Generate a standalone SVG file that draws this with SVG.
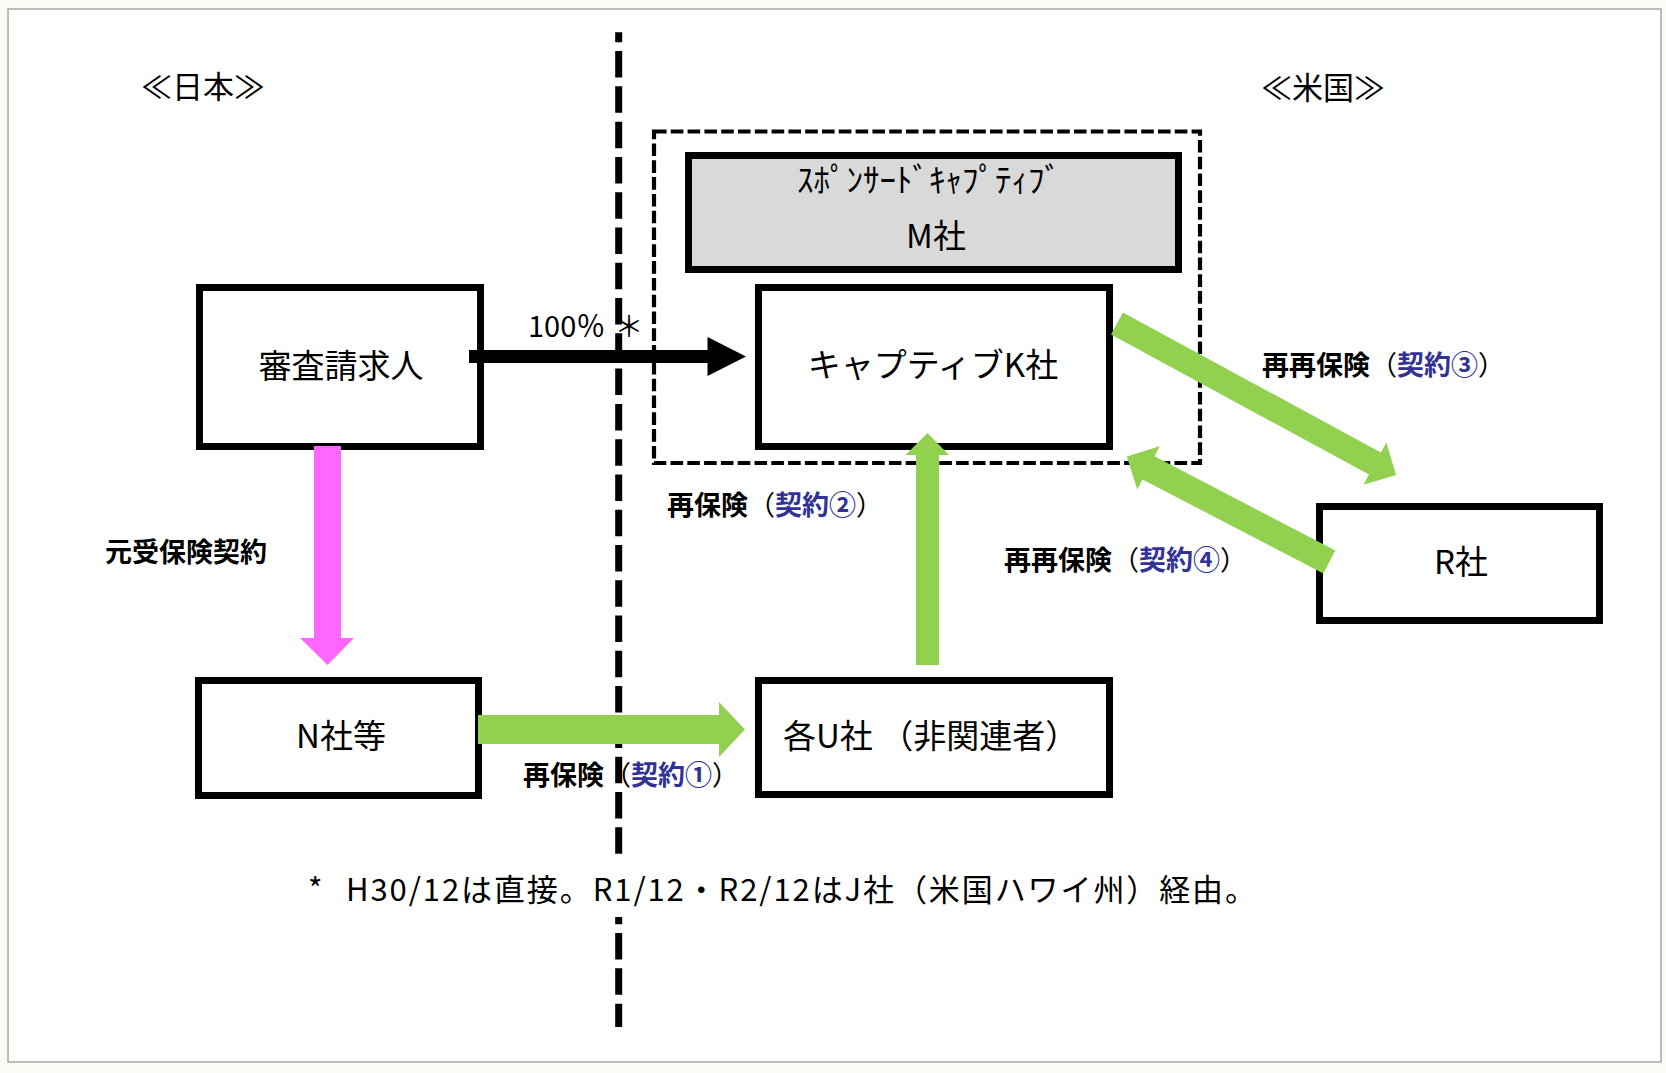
<svg xmlns="http://www.w3.org/2000/svg" width="1666" height="1073" viewBox="0 0 1666 1073">
<style>
  text { font-family: "Noto Sans CJK JP", "Noto Sans", sans-serif; fill: #000; }
  .node { fill: #fff; stroke: #000; stroke-width: 7; }
  .gray { fill: #d9d9d9; stroke: #000; stroke-width: 7; }
  .nl { font-size: 33px; }
  .region { font-size: 31px; }
  .lbl { font-size: 27px; font-weight: bold; }
  .thin { font-weight: normal; }
  .blue { fill: #323296; }
  .green { fill: #92d050; }
  .pink { fill: #ff66ff; }
</style>
<rect x="0" y="0" width="1666" height="1073" fill="#fbfbf6"/>
<rect x="8" y="9" width="1653" height="1053" fill="#fff" stroke="#999" stroke-width="1.3"/>

<g id="border-line">
  <line x1="618.7" y1="32.3" x2="618.7" y2="1027" stroke="#000" stroke-width="7" stroke-dasharray="26.5 8.78" stroke-dashoffset="16.5"/>
</g>

<g id="region-labels">
  <text class="region" x="203" y="98" text-anchor="middle">≪日本≫</text>
  <text class="region" x="1323" y="99" text-anchor="middle">≪米国≫</text>
</g>

<g id="sponsored-group">
  <rect x="654" y="131.5" width="546" height="331.5" fill="none" stroke="#000" stroke-width="4.2" stroke-dasharray="12.6 4.2"/>
</g>

<g id="node-M">
  <rect class="gray" x="688.5" y="155.5" width="490" height="114"/>
  <text x="929" y="192" text-anchor="middle" font-size="33">ｽﾎﾟﾝｻｰﾄﾞｷｬﾌﾟﾃｨﾌﾞ</text>
  <text x="936" y="248" text-anchor="middle" font-size="33">M社</text>
</g>

<g id="node-claimant">
  <rect class="node" x="199.5" y="287.5" width="281" height="159"/>
  <text class="nl" x="341" y="377.5" text-anchor="middle">審査請求人</text>
</g>

<g id="node-K">
  <rect class="node" x="758.5" y="287.5" width="351" height="159"/>
  <text class="nl" x="933" y="376.5" text-anchor="middle">キャプティブK社</text>
</g>

<g id="node-N">
  <rect class="node" x="198.5" y="680.5" width="280" height="115"/>
  <text class="nl" x="341" y="747.5" text-anchor="middle">N社等</text>
</g>

<g id="node-U">
  <rect class="node" x="758.5" y="680.5" width="351" height="114"/>
  <text class="nl" x="783" y="747.5">各U社 （非関連者）</text>
</g>

<g id="node-R">
  <rect class="node" x="1319.5" y="506.5" width="280" height="114"/>
  <text class="nl" x="1461" y="574" text-anchor="middle">R社</text>
</g>

<g id="connectors">
  <!-- 100% ownership -->
  <polygon fill="#000" points="469,350 707.5,350 707.5,337 746,356.5 707.5,376 707.5,363 469,363"/>
  <!-- original insurance -->
  <polygon class="pink" points="314,446 341,446 341,638 354,638 327.5,665 300,638 314,638"/>
  <!-- contract 1 -->
  <polygon class="green" points="478,715 719,715 719,702 745,729.5 719,757 719,744 478,744"/>
  <!-- contract 2 -->
  <polygon class="green" points="916,665 916,455 905.5,455 927.5,433 949,455 939,455 939,665"/>
  <!-- contract 3 -->
  <polygon class="green" transform="translate(1117,323.5) rotate(28.5)" points="0,-12.5 293.5,-12.5 293.5,-24 317.5,0 293.5,24 293.5,12.5 0,12.5"/>
  <!-- contract 4 -->
  <polygon class="green" transform="translate(1329.3,562) rotate(207.5)" points="0,-13 203.8,-13 203.8,-24.3 228.3,0 203.8,24.3 203.8,13 0,13"/>
</g>

<g id="connector-labels">
  <text x="528" y="337" font-size="29">100％</text>
  <text x="629" y="337" font-size="29" text-anchor="middle">＊</text>
  <text class="lbl" x="105" y="562">元受保険契約</text>
  <text class="lbl" x="667" y="515">再保険<tspan class="thin">（</tspan><tspan class="blue">契約②</tspan><tspan class="thin">）</tspan></text>
  <text class="lbl" x="1262" y="375">再再保険<tspan class="thin">（</tspan><tspan class="blue">契約③</tspan><tspan class="thin">）</tspan></text>
  <text class="lbl" x="1004" y="570">再再保険<tspan class="thin">（</tspan><tspan class="blue">契約④</tspan><tspan class="thin">）</tspan></text>
  <text class="lbl" x="523" y="785">再保険<tspan class="thin">（</tspan><tspan class="blue">契約①</tspan><tspan class="thin">）</tspan></text>
</g>

<g id="footnote">
  <rect x="300" y="861" width="975" height="56" fill="#fff"/>
  <text x="308" y="901" font-size="31">*</text>
  <text x="346" y="901" font-size="31" textLength="910" lengthAdjust="spacing">H30/12は直接。R1/12・R2/12はJ社（米国ハワイ州）経由。</text>
</g>
</svg>
